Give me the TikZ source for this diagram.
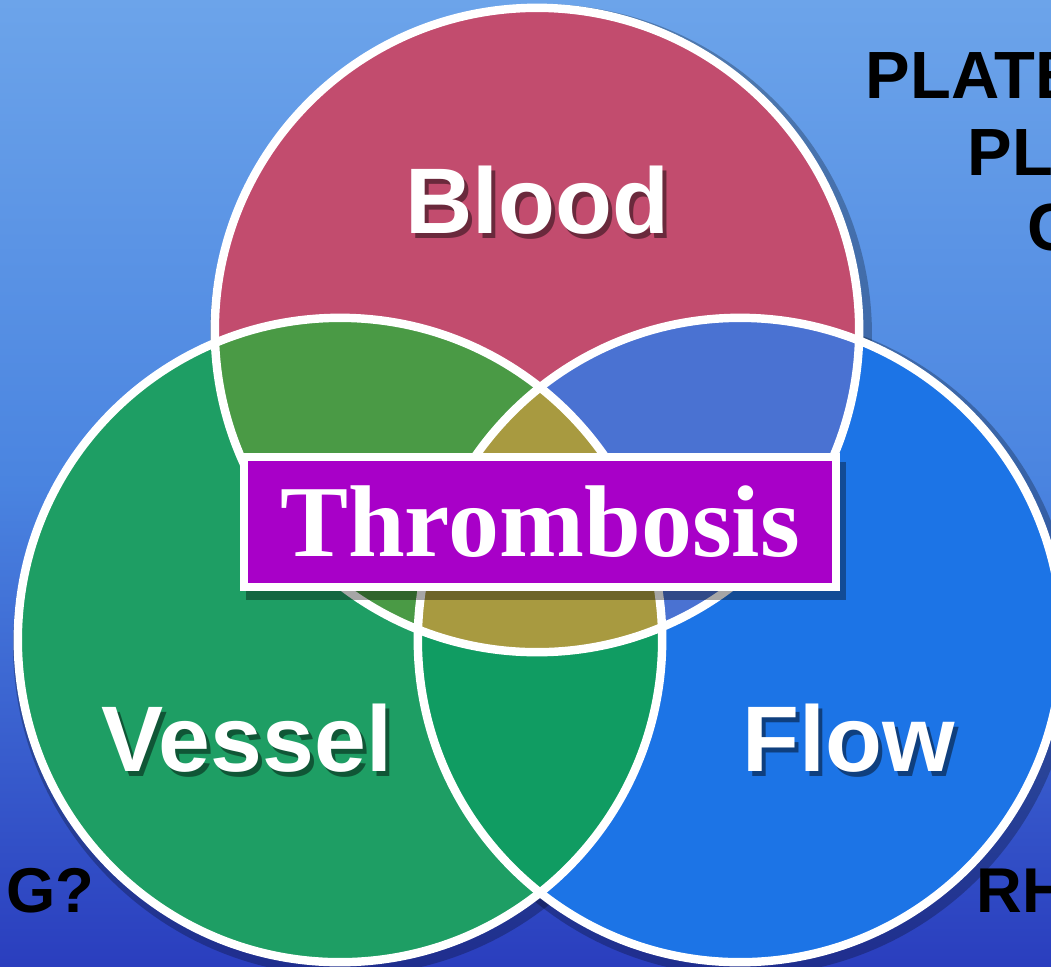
\documentclass[tikz,border=0pt]{standalone}
\usepackage{fontspec}
\setmainfont{Liberation Serif}
\setsansfont{Liberation Sans}
\usepackage{tikz}
\usetikzlibrary{positioning}

\definecolor{bgtop}{HTML}{6CA4EA}
\definecolor{bgmid}{HTML}{4A84E0}
\definecolor{bgbot}{HTML}{2A3EBE}
\definecolor{bloodred}{HTML}{C24C6E}
\definecolor{vesselgreen}{HTML}{1E9E64}
\definecolor{flowblue}{HTML}{1C74E6}
\definecolor{bvgreen}{HTML}{4A9A45}
\definecolor{bfblue}{HTML}{4A72D2}
\definecolor{vfgreen}{HTML}{109C62}
\definecolor{allolive}{HTML}{A89A40}
\definecolor{thrombo}{HTML}{A800C8}

\begin{document}
\begin{tikzpicture}[x=0.01cm,y=-0.01cm,
              ring/.style={draw=white,line width=2.4pt},
              lbl/.style={text=white,font=\sffamily\bfseries\fontsize{26.5}{26.5}\selectfont},
              lblshadow/.style={text=black,opacity=0.45,font=\sffamily\bfseries\fontsize{26.5}{26.5}\selectfont},
              side/.style={text=black,anchor=base west,inner sep=0pt,font=\sffamily\bfseries\fontsize{19}{19}\selectfont}]
  \useasboundingbox (0,0) rectangle (1051,966);
  \clip (0,0) rectangle (1051,966);
  \shade[top color=bgtop,bottom color=bgbot,middle color=bgmid] (0,0) rectangle (1051,966);
  \coordinate (blood) at (537,330);
  \coordinate (vessel) at (340,640);
  \coordinate (flow) at (740,640);
  % shadows of the rings
  \foreach \c in {blood,vessel,flow}
    \draw[black,opacity=0.25,line width=5pt] ([shift={(4,5)}]\c) circle (3.22cm);
  % single regions
  \fill[bloodred] (blood) circle (3.22cm);
  \fill[vesselgreen] (vessel) circle (3.22cm);
  \fill[flowblue] (flow) circle (3.22cm);
  % overlaps
  \begin{scope}
    \clip (blood) circle (3.22cm);
    \fill[bvgreen] (vessel) circle (3.22cm);
    \fill[bfblue] (flow) circle (3.22cm);
  \end{scope}
  \begin{scope}
    \clip (vessel) circle (3.22cm);
    \fill[vfgreen] (flow) circle (3.22cm);
    \clip (flow) circle (3.22cm);
    \fill[allolive] (blood) circle (3.22cm);
  \end{scope}
  \foreach \c in {blood,vessel,flow}
    \draw[ring] (\c) circle (3.22cm);
  % labels
  \node[lblshadow] (bloodsh) at (541,205) {Blood};
  \node[lbl] (bloodtxt) at (537,200) {Blood};
  \node[lblshadow] (vesselsh) at (251,743) {Vessel};
  \node[lbl] (vesseltxt) at (247,738) {Vessel};
  \node[lblshadow] (flowsh) at (853,743) {Flow};
  \node[lbl] (flowtxt) at (849,738) {Flow};
  % box
  \fill[black,opacity=0.35] (246,462) rectangle (846,600);
  \node[fill=thrombo,draw=white,line width=2.4pt,minimum width=5.92cm,minimum height=1.3cm,
        text=white,font=\rmfamily\bfseries\fontsize{29}{29}\selectfont] (thrombosis) at (540,522) {Thrombosis};
  % side texts
  \node[side] (plate) at (865,98) {PLATE};
  \node[side] (pla) at (967,175) {PL};
  \node[side] (coag) at (1027,250) {C};
  \node[side,font=\sffamily\bfseries\fontsize{18}{18}\selectfont] (gq) at (6,912) {G?};
  \node[side,font=\sffamily\bfseries\fontsize{18}{18}\selectfont] (rh) at (976,912) {RH};
\end{tikzpicture}
\end{document}
